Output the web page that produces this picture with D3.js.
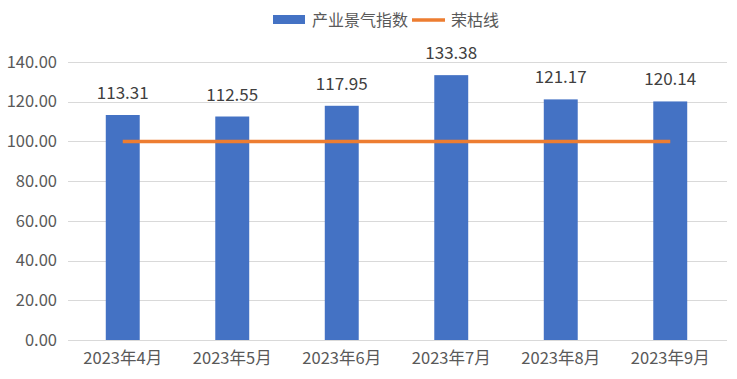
<!DOCTYPE html>
<html><head><meta charset="utf-8">
<script src="https://cdn.jsdelivr.net/npm/d3@7"></script>
<style>body{margin:0;background:#fff}svg{display:block}text{font-family:"Noto Sans CJK SC","Noto Sans",sans-serif}</style>
</head><body><svg id="c" width="737" height="379"></svg>
<script>
const categories = ["2023年4月","2023年5月","2023年6月","2023年7月","2023年8月","2023年9月"];
const indexValues = [113.31,112.55,117.95,133.38,121.17,120.14];
const thresholdValues = [100,100,100,100,100,100];
const yTicks = [0,20,40,60,80,100,120,140];
const seriesNames = ["产业景气指数","荣枯线"];

const svg = d3.select("#c");
const m = {left:68, right:12, top:62, bottom:39};
const W = 737, H = 379;
const x = d3.scaleBand().domain(categories).range([m.left, W-m.right]).paddingInner(0.69).paddingOuter(0.345);
const xc = d3.scaleBand().domain(categories).range([m.left, W-m.right]);
const y = d3.scaleLinear().domain([0,140]).range([H-m.bottom, m.top]);

// grid
svg.append("g").selectAll("line").data(yTicks).join("line")
  .attr("x1", m.left).attr("x2", W-m.right+2)
  .attr("y1", d=>Math.round(y(d))+0.5).attr("y2", d=>Math.round(y(d))+0.5)
  .attr("stroke", "#d9d9d9").attr("stroke-width",1);

// y axis labels
const ya = svg.append("g").attr("transform",`translate(${m.left-11},0)`)
  .call(d3.axisLeft(y).tickValues(yTicks).tickFormat(d3.format(".2f")).tickSize(0).tickPadding(0));
ya.select(".domain").remove();
ya.selectAll("text").attr("font-size",16.5).attr("fill","#595959").attr("font-family","'Noto Sans','Noto Sans CJK SC',sans-serif");

// x axis labels
const xa = svg.append("g").attr("transform",`translate(0,${H-m.bottom})`)
  .call(d3.axisBottom(xc).tickSize(0).tickPadding(12));
xa.select(".domain").remove();
xa.selectAll("text").attr("font-size",16.5).attr("fill","#595959").attr("font-family","'Noto Sans CJK SC',sans-serif");

// bars
svg.append("g").selectAll("rect").data(indexValues).join("rect")
  .attr("x",(d,i)=>x(categories[i])).attr("width",x.bandwidth())
  .attr("y",d=>y(d)).attr("height",d=>y(0)-y(d)).attr("fill","#4472c4");

// labels
svg.append("g").selectAll("text").data(indexValues).join("text")
  .attr("x",(d,i)=>xc(categories[i])+xc.bandwidth()/2).attr("y",d=>y(d)-16)
  .attr("text-anchor","middle").attr("font-size",17).attr("fill","#404040")
  .attr("font-family","'Noto Sans',sans-serif")
  .text(d=>d.toFixed(2));

// threshold line
const line = d3.line().x((d,i)=>xc(categories[i])+xc.bandwidth()/2).y(d=>y(d));
svg.append("path").datum(thresholdValues).attr("d",line)
  .attr("fill","none").attr("stroke","#ed7d31").attr("stroke-width",3.5);

// legend
const lg = svg.append("g");
lg.append("rect").attr("x",273).attr("y",15).attr("width",32).attr("height",9).attr("fill","#4472c4");
lg.append("text").attr("x",312).attr("y",25.5).attr("font-size",16).attr("fill","#595959").text(seriesNames[0]);
lg.append("line").attr("x1",412).attr("x2",445).attr("y1",20).attr("y2",20).attr("stroke","#ed7d31").attr("stroke-width",3.5);
lg.append("text").attr("x",451).attr("y",25.5).attr("font-size",16).attr("fill","#595959").text(seriesNames[1]);
</script></body></html>
